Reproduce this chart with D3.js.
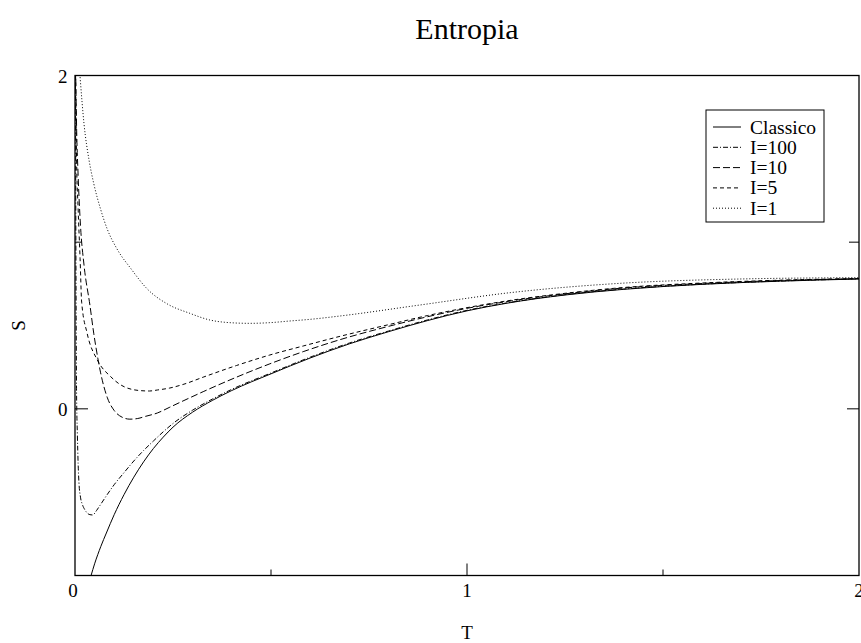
<!DOCTYPE html>
<html>
<head>
<meta charset="utf-8">
<script src="https://cdn.jsdelivr.net/npm/d3@7"></script>
<style>
  body { margin: 0; background: #fff; }
  text { font-family: "Liberation Serif", "Times New Roman", serif; fill: #000; }
</style>
</head>
<body>
<svg id="chart" width="861" height="643"></svg>
<script>
// ---- data ----
const title = "Entropia";
const xLabel = "T";
const yLabel = "S";
const xTickLabels = [0, 1, 2];
const yTickLabels = [0, 2];
const seriesNames = ["Classico", "I=100", "I=10", "I=5", "I=1"];

const tClassico = [0.041,0.05,0.066,0.08,0.1,0.125,0.15,0.175,0.2,0.225,0.25,0.3,0.35,0.4,0.5,0.6,0.7,0.8,0.9,1.0,1.1,1.25,1.4,1.6,1.8,2.0];
const sClassico = [-1.0,-0.93,-0.825,-0.745,-0.635,-0.515,-0.41,-0.318,-0.238,-0.17,-0.11,-0.02,0.05,0.11,0.21,0.305,0.39,0.463,0.53,0.588,0.633,0.683,0.717,0.747,0.766,0.779];

const tI100 = [0.0012,0.002,0.003,0.004,0.006,0.008,0.010,0.014,0.019,0.025,0.031,0.038,0.045,0.055,0.065,0.082,0.1,0.125,0.15,0.175,0.2,0.225,0.25,0.3,0.35,0.4,0.5,0.6,0.7,0.8,0.9,1.0,1.1,1.25,1.4,1.6,1.8,2.0];
const sI100 = [2.0,1.2,0.55,0.1,-0.15,-0.33,-0.44,-0.53,-0.575,-0.605,-0.625,-0.635,-0.637,-0.61,-0.575,-0.515,-0.455,-0.383,-0.313,-0.25,-0.193,-0.138,-0.088,-0.008,0.058,0.117,0.215,0.31,0.395,0.467,0.534,0.591,0.635,0.685,0.719,0.748,0.767,0.78];

const tI10 = [0.002,0.004,0.008,0.014,0.023,0.038,0.048,0.057,0.065,0.082,0.1,0.12,0.14,0.16,0.18,0.21,0.242,0.278,0.327,0.412,0.497,0.582,0.676,0.8,0.9,1.0,1.1,1.25,1.4,1.6,1.8,2.0];
const sI10 = [1.98,1.70,1.40,1.10,0.863,0.623,0.45,0.32,0.22,0.07,-0.01,-0.05,-0.062,-0.058,-0.045,-0.025,0.01,0.05,0.103,0.19,0.27,0.343,0.415,0.495,0.553,0.603,0.643,0.69,0.725,0.752,0.77,0.781];

const tI5 = [0.0015,0.004,0.008,0.013,0.017,0.031,0.057,0.091,0.125,0.168,0.19,0.21,0.242,0.278,0.327,0.412,0.497,0.582,0.676,0.8,0.9,1.0,1.1,1.25,1.4,1.6,1.8,2.0];
const sI5 = [2.0,1.5,1.2,0.9,0.64,0.453,0.293,0.193,0.133,0.109,0.107,0.113,0.125,0.148,0.19,0.26,0.323,0.377,0.435,0.505,0.56,0.607,0.647,0.693,0.728,0.755,0.772,0.782];

const tI1 = [0.013,0.023,0.036,0.048,0.065,0.082,0.107,0.143,0.184,0.235,0.293,0.344,0.395,0.446,0.497,0.548,0.6,0.676,0.88,1.11,1.39,1.696,2.0];
const sI1 = [1.99,1.71,1.49,1.35,1.20,1.08,0.96,0.84,0.72,0.63,0.573,0.533,0.517,0.513,0.517,0.527,0.537,0.557,0.623,0.697,0.753,0.779,0.787];

// ---- layout ----
const svg = d3.select("#chart");
const pL = 75, pR = 859, pT = 75.5, pB = 575.5;

const x = d3.scaleLinear().domain([0, 2]).range([pL, pR]);
const y = d3.scaleLinear().domain([-1, 2]).range([pB, pT]);

svg.append("defs").append("clipPath").attr("id", "clip")
  .append("rect").attr("x", pL).attr("y", pT).attr("width", pR - pL).attr("height", pB - pT);

const series = [
  { name: seriesNames[0], t: tClassico, s: sClassico, dash: null },
  { name: seriesNames[1], t: tI100, s: sI100, dash: "5,2,1,2" },
  { name: seriesNames[2], t: tI10, s: sI10, dash: "7,3" },
  { name: seriesNames[3], t: tI5, s: sI5, dash: "4,3" },
  { name: seriesNames[4], t: tI1, s: sI1, dash: "1,2" }
];

const line = d3.line().x(d => x(d[0])).y(d => y(d[1])).curve(d3.curveMonotoneX);

const g = svg.append("g").attr("clip-path", "url(#clip)");
series.forEach(sr => {
  const pts = sr.t.map((t, i) => [t, sr.s[i]]);
  g.append("path").attr("d", line(pts))
    .attr("fill", "none").attr("stroke", "#000").attr("stroke-width", 1)
    .attr("stroke-dasharray", sr.dash);
});

// frame
svg.append("rect").attr("x", pL).attr("y", pT).attr("width", pR - pL).attr("height", pB - pT)
  .attr("fill", "none").attr("stroke", "#000").attr("stroke-width", 1.3);

// ticks (inward)
const xMajor = [1], xMinor = [0.5, 1.5];
const yMajor = [0], yMinor = [1];
const tk = svg.append("g").attr("stroke", "#000").attr("stroke-width", 1);
xMajor.forEach(v => {
  tk.append("line").attr("x1", x(v)).attr("x2", x(v)).attr("y1", pB).attr("y2", pB - 12);
});
xMinor.forEach(v => {
  tk.append("line").attr("x1", x(v)).attr("x2", x(v)).attr("y1", pB).attr("y2", pB - 6);
});
yMajor.forEach(v => {
  tk.append("line").attr("x1", pL).attr("x2", pL + 13).attr("y1", y(v)).attr("y2", y(v));
  tk.append("line").attr("x1", pR).attr("x2", pR - 12).attr("y1", y(v)).attr("y2", y(v));
});
yMinor.forEach(v => {
  tk.append("line").attr("x1", pL).attr("x2", pL + 7).attr("y1", y(v)).attr("y2", y(v));
  tk.append("line").attr("x1", pR).attr("x2", pR - 10).attr("y1", y(v)).attr("y2", y(v));
});

// tick labels
xTickLabels.forEach(v => {
  svg.append("text").attr("x", x(v) - (v === 0 ? 2 : 0)).attr("y", 597).attr("text-anchor", "middle")
    .attr("font-size", 19).text(v);
});
yTickLabels.forEach(v => {
  svg.append("text").attr("x", 67.5).attr("y", y(v) + 7).attr("text-anchor", "end")
    .attr("font-size", 19).text(v);
});

// axis labels & title
svg.append("text").attr("x", x(1)).attr("y", 639).attr("text-anchor", "middle")
  .attr("font-size", 19).text(xLabel);
svg.append("text").attr("transform", `translate(25,${(pT + pB) / 2}) rotate(-90)`)
  .attr("text-anchor", "middle").attr("font-size", 19).text(yLabel);
svg.append("text").attr("x", x(1)).attr("y", 39).attr("text-anchor", "middle")
  .attr("font-size", 30).text(title);

// legend
const lg = svg.append("g");
lg.append("rect").attr("x", 706).attr("y", 110).attr("width", 118).attr("height", 112)
  .attr("fill", "#fff").attr("stroke", "#000").attr("stroke-width", 1);
series.forEach((sr, i) => {
  const cy = 127 + i * 20.3;
  lg.append("line").attr("x1", 713).attr("x2", 741).attr("y1", cy).attr("y2", cy)
    .attr("stroke", "#000").attr("stroke-width", 1).attr("stroke-dasharray", sr.dash);
  lg.append("text").attr("x", 750).attr("y", cy + 6.5).attr("font-size", 19.5).text(sr.name);
});
</script>
</body>
</html>
